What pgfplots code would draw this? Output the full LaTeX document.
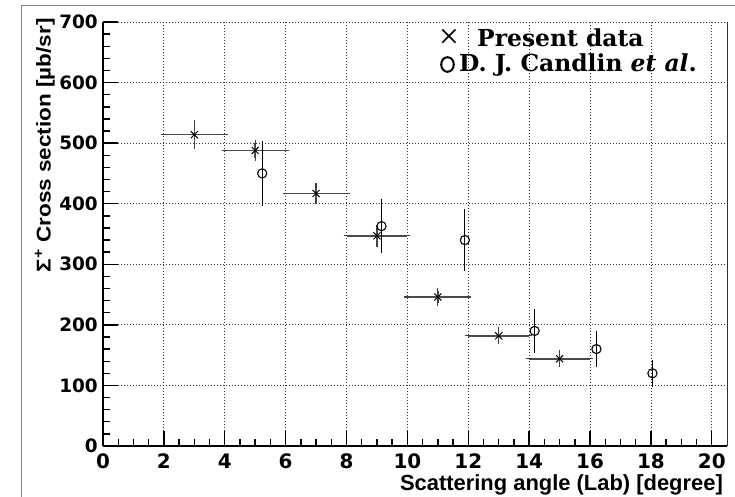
\documentclass[border=0pt]{standalone}
\usepackage{fontspec}
\setmainfont{Liberation Sans}
\newfontfamily\tickfont{DejaVu Sans}
\newfontfamily\legfont{DejaVu Serif}
\newfontfamily\symfont{Liberation Serif}
\usepackage{graphicx}
\usepackage{pgfplots}
\pgfplotsset{compat=1.18}

\begin{document}
\begin{tikzpicture}
\path[use as bounding box] (-103bp,-51bp) rectangle (632bp,446bp);
% canvas border (pad frame)
\draw[gray, line width=1bp] (-81bp,-60bp) -- (-81bp,440bp) -- (640bp,440bp);
\begin{axis}[
  at={(0,0)}, anchor=south west,
  width=624bp, height=424bp, scale only axis,
  xmin=0, xmax=20.5, ymin=0, ymax=700,
  axis lines=left, axis line style={-, line width=2.4bp},
  xtick={0,2,...,20}, ytick={0,100,...,700},
  minor x tick num=3, minor y tick num=4,
  tick align=inside,
  major tick length=15bp, minor tick length=7.5bp,
  tick style={line width=1.4bp, black},
  grid=major, grid style={black!80, line width=0.8bp, dash pattern=on 1bp off 2bp},
  xticklabel={\pgfmathprintnumber[assume math mode=true]{\tick}},
  yticklabel={\pgfmathprintnumber[assume math mode=true]{\tick}},
  xticklabel style={font=\tickfont\fontsize{20}{22}\selectfont\bfseries, anchor=north, inner sep=0pt, yshift=-8bp},
  yticklabel style={font=\tickfont\fontsize{18.5}{22}\selectfont\bfseries, anchor=east, inner sep=0pt, xshift=-5bp},
  xlabel={Scattering angle (Lab) [degree]},
  xlabel style={font=\fontsize{22}{24}\selectfont\bfseries, at={(rel axis cs:0.9936,-0.1038)}, anchor=base east, inner sep=0pt},
  ylabel={\scalebox{1.13}[1]{Σ\textsuperscript{+} Cross section [µb/sr]}},
  ylabel style={font=\fontsize{20}{22}\selectfont\bfseries, at={(rel axis cs:-0.093,1.0094)}, anchor=east, inner sep=0pt},
]
% Present data
\addplot[black, only marks, mark=x, mark size=5bp, mark options={line width=1bp, black},
  error bars/.cd, x dir=both, x explicit, y dir=both, y explicit,
  error bar style={line width=1.5bp, black!70},
  error mark options={line width=1.3bp, black!75, mark size=3bp}]
  coordinates {
  (3,514) +- (1,19)
  (5,488) +- (1,13)
  (7,417) +- (1,12)
  (9,347) +- (1,13)
  (11,246) +- (1,10)
  (13,182) +- (1,9)
  (15,144) +- (1,9)
  };
% D. J. Candlin et al.
\addplot[black, only marks, mark=o, mark size=4.6bp, mark options={line width=1.1bp},
  error bars/.cd, y dir=both, y explicit,
  error bar style={line width=1.1bp, black},
  error mark options={line width=1.1bp, black, mark size=2.5bp}]
  coordinates {
  (5.23,450) +- (0,49)
  (9.15,363) +- (0,40)
  (11.89,340) +- (0,47)
  (14.18,190) +- (0,32)
  (16.21,160) +- (0,26)
  (18.05,120) +- (0,18)
  };
\end{axis}
% right frame line
\draw[black!80, line width=1bp] (624bp,0) -- (624bp,424bp);
% legend
\node[inner sep=0pt, font=\symfont\fontsize{36}{38}\selectfont] at (346bp,407bp) {×};
\node[inner sep=0pt, anchor=base west, font=\legfont\fontsize{23.5}{26}\selectfont\bfseries] at (374bp,399.3bp) {Present data};
\draw[black, line width=2bp] (344.5bp,381.5bp) ellipse (6.3bp and 7.3bp);
\node[inner sep=0pt, anchor=base west, font=\legfont\fontsize{23.5}{26}\selectfont\bfseries] at (356bp,374bp) {D. J. Candlin \textit{et al}.};
\end{tikzpicture}
\end{document}
